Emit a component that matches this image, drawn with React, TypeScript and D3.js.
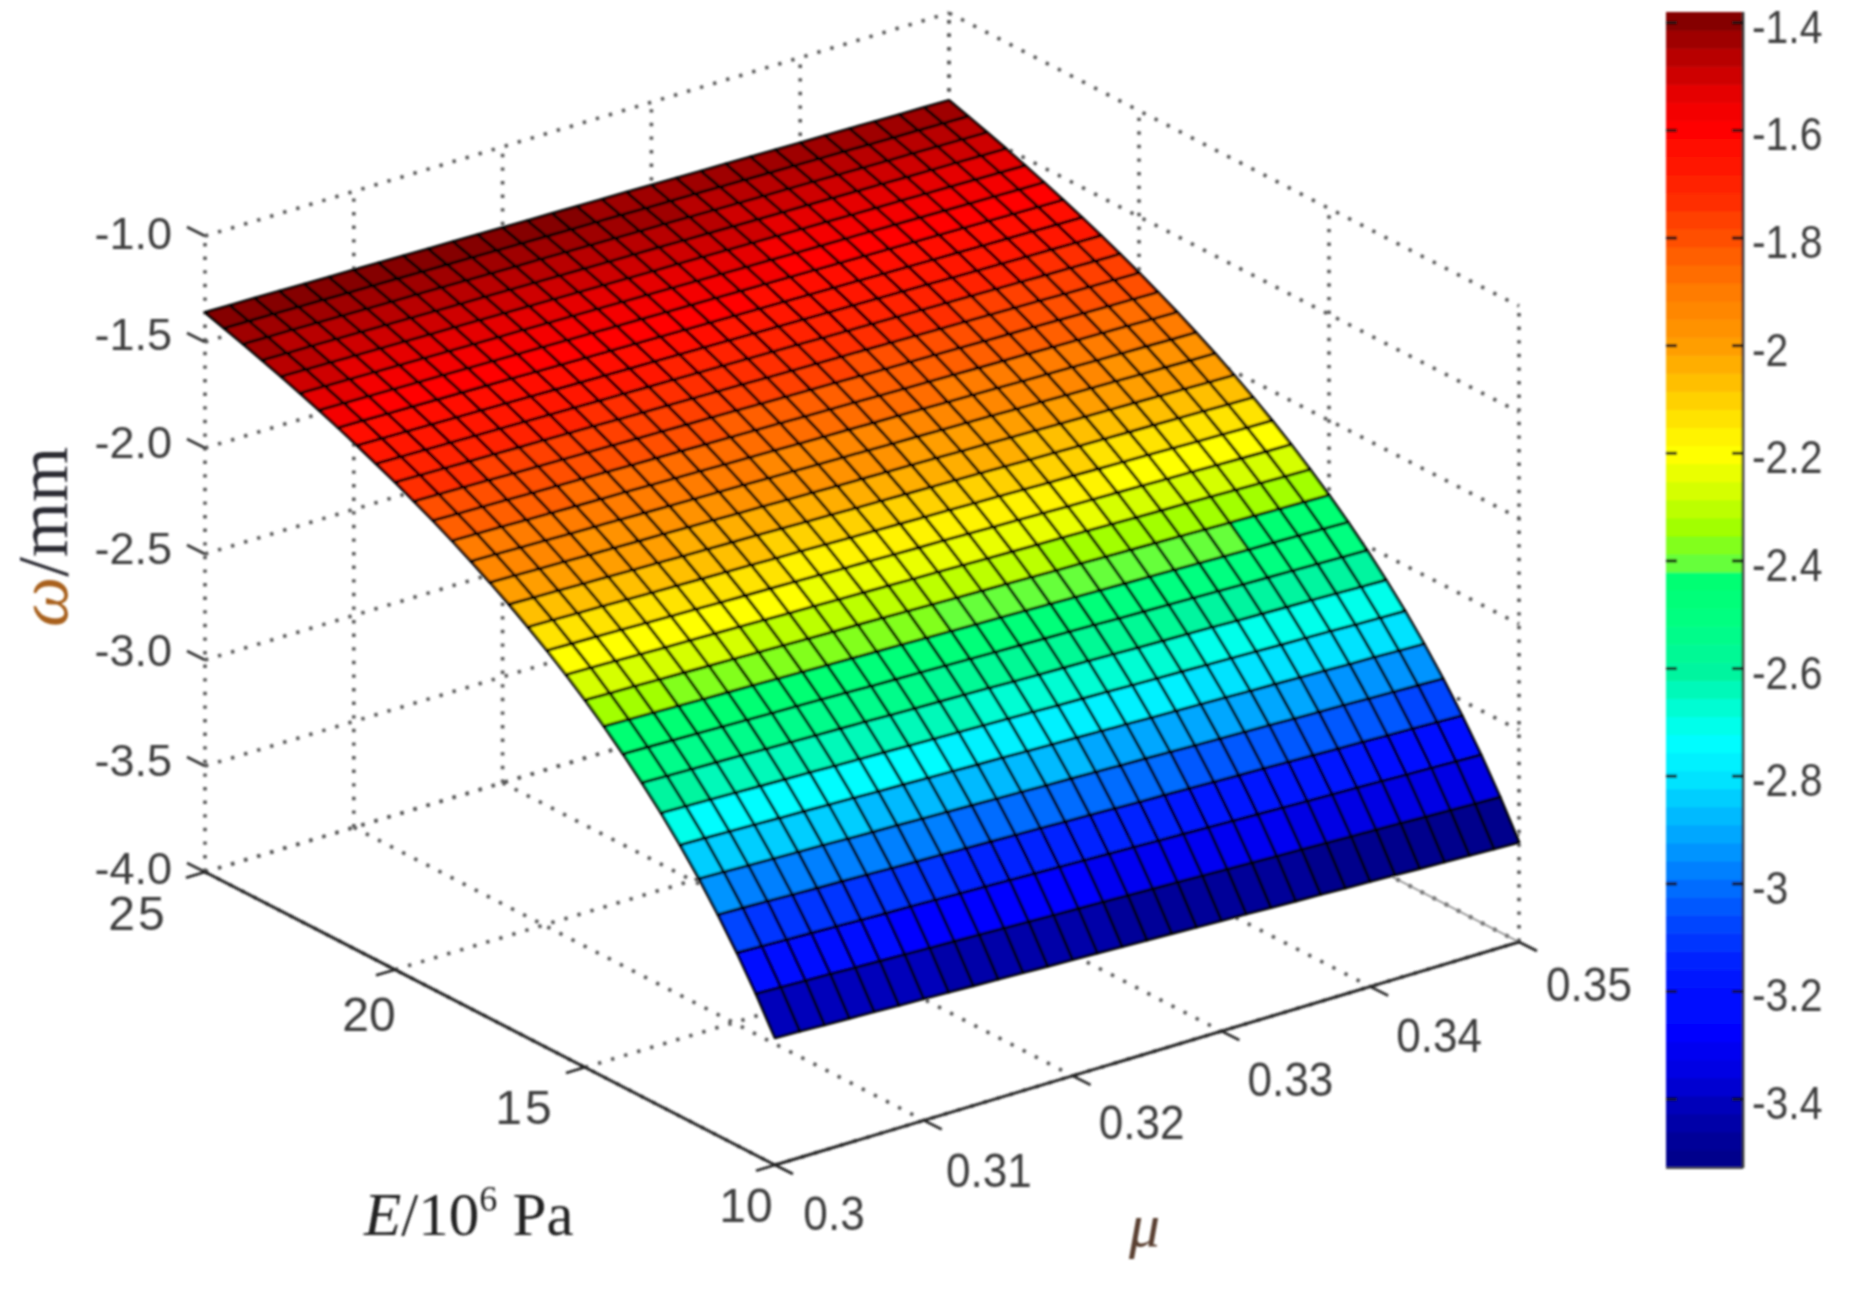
import React from "react";
import * as d3 from "d3";

const eGrid = [10,10.5,11,11.5,12,12.5,13,13.5,14,14.5,15,15.5,16,16.5,17,17.5,18,18.5,19,19.5,20,20.5,21,21.5,22,22.5,23,23.5,24,24.5,25];
const muGrid = [0.3,0.30167,0.30333,0.305,0.30667,0.30833,0.31,0.31167,0.31333,0.315,0.31667,0.31833,0.32,0.32167,0.32333,0.325,0.32667,0.32833,0.33,0.33167,0.33333,0.335,0.33667,0.33833,0.34,0.34167,0.34333,0.345,0.34667,0.34833,0.35];

// deflection magnitude in micrometres; one row per E value, one column per mu value
const deflection = [
[3400,3404,3409,3413,3417,3422,3426,3430,3435,3439,3443,3448,3452,3456,3461,3465,3469,3474,3478,3482,3487,3491,3495,3500,3504,3508,3513,3517,3521,3526,3530],
[3238,3242,3246,3250,3255,3259,3263,3267,3271,3275,3279,3284,3288,3292,3296,3300,3304,3308,3312,3317,3321,3325,3329,3333,3337,3341,3345,3350,3354,3358,3362],
[3091,3095,3099,3103,3107,3111,3115,3118,3122,3126,3130,3134,3138,3142,3146,3150,3154,3158,3162,3166,3170,3174,3178,3182,3185,3189,3193,3197,3201,3205,3209],
[2957,2960,2964,2968,2972,2975,2979,2983,2987,2990,2994,2998,3002,3005,3009,3013,3017,3021,3024,3028,3032,3036,3039,3043,3047,3051,3054,3058,3062,3066,3070],
[2833,2837,2841,2844,2848,2851,2855,2859,2862,2866,2869,2873,2877,2880,2884,2887,2891,2895,2898,2902,2906,2909,2913,2916,2920,2924,2927,2931,2934,2938,2942],
[2720,2723,2727,2730,2734,2737,2741,2744,2748,2751,2755,2758,2762,2765,2769,2772,2775,2779,2782,2786,2789,2793,2796,2800,2803,2807,2810,2814,2817,2821,2824],
[2615,2619,2622,2625,2629,2632,2635,2639,2642,2645,2649,2652,2655,2659,2662,2665,2669,2672,2675,2679,2682,2685,2689,2692,2695,2699,2702,2705,2709,2712,2715],
[2519,2522,2525,2528,2531,2535,2538,2541,2544,2547,2551,2554,2557,2560,2563,2567,2570,2573,2576,2579,2583,2586,2589,2592,2596,2599,2602,2605,2608,2612,2615],
[2429,2432,2435,2438,2441,2444,2447,2450,2453,2456,2460,2463,2466,2469,2472,2475,2478,2481,2484,2487,2491,2494,2497,2500,2503,2506,2509,2512,2515,2518,2521],
[2345,2348,2351,2354,2357,2360,2363,2366,2369,2372,2375,2378,2381,2384,2387,2390,2393,2396,2399,2402,2405,2408,2411,2414,2417,2420,2423,2425,2428,2431,2434],
[2267,2270,2272,2275,2278,2281,2284,2287,2290,2293,2296,2298,2301,2304,2307,2310,2313,2316,2319,2322,2324,2327,2330,2333,2336,2339,2342,2345,2348,2350,2353],
[2194,2196,2199,2202,2205,2207,2210,2213,2216,2219,2221,2224,2227,2230,2233,2235,2238,2241,2244,2247,2249,2252,2255,2258,2261,2263,2266,2269,2272,2275,2277],
[2125,2128,2130,2133,2136,2139,2141,2144,2147,2149,2152,2155,2158,2160,2163,2166,2168,2171,2174,2176,2179,2182,2185,2187,2190,2193,2195,2198,2201,2204,2206],
[2061,2063,2066,2068,2071,2074,2076,2079,2082,2084,2087,2089,2092,2095,2097,2100,2103,2105,2108,2110,2113,2116,2118,2121,2124,2126,2129,2132,2134,2137,2139],
[2000,2003,2005,2008,2010,2013,2015,2018,2020,2023,2025,2028,2031,2033,2036,2038,2041,2043,2046,2048,2051,2054,2056,2059,2061,2064,2066,2069,2071,2074,2076],
[1943,1945,1948,1950,1953,1955,1958,1960,1963,1965,1968,1970,1973,1975,1978,1980,1983,1985,1987,1990,1992,1995,1997,2000,2002,2005,2007,2010,2012,2015,2017],
[1889,1891,1894,1896,1899,1901,1903,1906,1908,1911,1913,1915,1918,1920,1923,1925,1927,1930,1932,1935,1937,1939,1942,1944,1947,1949,1951,1954,1956,1959,1961],
[1838,1840,1842,1845,1847,1850,1852,1854,1857,1859,1861,1864,1866,1868,1871,1873,1875,1878,1880,1882,1885,1887,1889,1892,1894,1896,1899,1901,1903,1906,1908],
[1789,1792,1794,1796,1799,1801,1803,1805,1808,1810,1812,1815,1817,1819,1821,1824,1826,1828,1831,1833,1835,1837,1840,1842,1844,1847,1849,1851,1853,1856,1858],
[1744,1746,1748,1750,1753,1755,1757,1759,1761,1764,1766,1768,1770,1772,1775,1777,1779,1781,1784,1786,1788,1790,1792,1795,1797,1799,1801,1804,1806,1808,1810],
[1700,1702,1704,1707,1709,1711,1713,1715,1717,1720,1722,1724,1726,1728,1730,1733,1735,1737,1739,1741,1743,1746,1748,1750,1752,1754,1756,1759,1761,1763,1765],
[1659,1661,1663,1665,1667,1669,1671,1673,1675,1678,1680,1682,1684,1686,1688,1690,1692,1694,1697,1699,1701,1703,1705,1707,1709,1711,1713,1716,1718,1720,1722],
[1619,1621,1623,1625,1627,1629,1631,1633,1636,1638,1640,1642,1644,1646,1648,1650,1652,1654,1656,1658,1660,1662,1664,1666,1669,1671,1673,1675,1677,1679,1681],
[1581,1583,1585,1587,1589,1591,1593,1595,1598,1600,1602,1604,1606,1608,1610,1612,1614,1616,1618,1620,1622,1624,1626,1628,1630,1632,1634,1636,1638,1640,1642],
[1545,1547,1549,1551,1553,1555,1557,1559,1561,1563,1565,1567,1569,1571,1573,1575,1577,1579,1581,1583,1585,1587,1589,1591,1593,1595,1597,1599,1601,1603,1605],
[1511,1513,1515,1517,1519,1521,1523,1525,1527,1528,1530,1532,1534,1536,1538,1540,1542,1544,1546,1548,1550,1552,1553,1555,1557,1559,1561,1563,1565,1567,1569],
[1478,1480,1482,1484,1486,1488,1490,1491,1493,1495,1497,1499,1501,1503,1505,1507,1508,1510,1512,1514,1516,1518,1520,1522,1524,1525,1527,1529,1531,1533,1535],
[1447,1449,1450,1452,1454,1456,1458,1460,1462,1463,1465,1467,1469,1471,1473,1474,1476,1478,1480,1482,1484,1486,1487,1489,1491,1493,1495,1497,1498,1500,1502],
[1417,1419,1420,1422,1424,1426,1428,1429,1431,1433,1435,1437,1438,1440,1442,1444,1446,1447,1449,1451,1453,1455,1456,1458,1460,1462,1464,1465,1467,1469,1471],
[1388,1390,1391,1393,1395,1397,1398,1400,1402,1404,1405,1407,1409,1411,1413,1414,1416,1418,1420,1421,1423,1425,1427,1428,1430,1432,1434,1436,1437,1439,1441],
[1360,1362,1363,1365,1367,1369,1370,1372,1374,1376,1377,1379,1381,1383,1384,1386,1388,1389,1391,1393,1395,1396,1398,1400,1402,1403,1405,1407,1409,1410,1412],
];

const zTicks = [-1, -1.5, -2, -2.5, -3, -3.5, -4];
const zLabels = ["-1.0", "-1.5", "-2.0", "-2.5", "-3.0", "-3.5", "-4.0"];
const eTicks = [25, 20, 15, 10];
const eLabels = ["25", "20", "15", "10"];
const muTicks = [0.3, 0.31, 0.32, 0.33, 0.34, 0.35];
const muLabels = ["0.3", "0.31", "0.32", "0.33", "0.34", "0.35"];
const barTicks = [-1.4, -1.6, -1.8, -2, -2.2, -2.4, -2.6, -2.8, -3, -3.2, -3.4];
const barLabels = ["-1.4", "-1.6", "-1.8", "-2", "-2.2", "-2.4", "-2.6", "-2.8", "-3", "-3.2", "-3.4"];
const colorDomain = [-3.528, -1.38];

// colormap
const stopValues = [-1.382,-1.464,-1.536,-1.592,-1.7,-1.802,-1.891,-1.997,-2.07,-2.155,-2.203,-2.283,-2.339,-2.389,-2.413,-2.421,-2.506,-2.607,-2.685,-2.735,-2.798,-2.863,-2.934,-3.0,-3.075,-3.148,-3.2,-3.276,-3.36,-3.4,-3.467,-3.523];
const stopColors = ["#7a0000","#b80000","#e80000","#ff0000","#ff2000","#ff5000","#ff7800","#ff9c00","#ffc000","#ffee00","#ffff00","#ccff00","#a0ff00","#70ff30","#60ff40","#00ff70","#00ff80","#00f5a0","#00ffdd","#00ffff","#00e8ff","#00c0ff","#0098ff","#0070ff","#0045ff","#0020ff","#0010ff","#0000ff","#0000dd","#0000c0","#00009c","#000088"];

// layout
const eOffsets = [[-67, 41], [-26, 44], [-60, 40], [-29, 40]];
const muOffsets = [[59, 47], [65, 49], [69, 45], [69, 47], [69, 47], [70, 41]];
const zLabelX = 172;
const zLabelDy = [-3, -8, -6, -6, -10, -6, -4];

const stopScale = d3.scaleLinear<string>().domain(stopValues).range(stopColors).interpolate(d3.interpolateRgb).clamp(true);
const levels = d3.range(64).map((i) => d3.rgb(stopScale(colorDomain[0] + ((colorDomain[1] - colorDomain[0]) * (i + 0.5)) / 64)).formatHex());
const colorOf = d3.scaleQuantize<string>().domain(colorDomain).range(levels);

const tScale = d3.scaleLinear().domain([25, 10]).range([0, 1]);
const sScale = d3.scaleLinear().domain([0.3, 0.35]).range([0, 1]);
const zScale = d3.scaleLinear().domain([-4, -1]).range([0, -636]);
const barY = d3.scaleLinear().domain([colorDomain[1], colorDomain[0]]).range([12, 1168]);

const project = (E: number, mu: number, z: number): [number, number] => {
  const t = tScale(E);
  const s = sScale(mu);
  return [205 + 570 * t + 744 * s, 872 + 293 * t - 223 * s + zScale(z)];
};

const line = d3.line();
const seg = (a: [number, number], b: [number, number]) => line([a, b]) as string;

const E0 = 25, E1 = 10, M0 = 0.3, M1 = 0.35, ZB = -4, ZT = -1;

const dotted: string[] = [
  ...zTicks.map((z) => seg(project(E0, M0, z), project(E0, M1, z))),
  ...zTicks.map((z) => seg(project(E0, M1, z), project(E1, M1, z))),
  ...muTicks.map((m) => seg(project(E0, m, ZB), project(E0, m, ZT))),
  ...eTicks.map((e) => seg(project(e, M1, ZB), project(e, M1, ZT))),
  ...muTicks.map((m) => seg(project(E0, m, ZB), project(E1, m, ZB))),
  ...eTicks.map((e) => seg(project(e, M0, ZB), project(e, M1, ZB))),
];

const labelStyle = { fontFamily: "'Liberation Sans', Arial, sans-serif", fill: "#3c3c3c" };

export default function App() {
  const cells: React.ReactNode[] = [];
  for (let i = 0; i < eGrid.length - 1; i++) {
    for (let j = 0; j < muGrid.length - 1; j++) {
      const P = (r: number, c: number) => project(eGrid[r], muGrid[c], -deflection[r][c] / 1000);
      const d = (line([P(i, j), P(i + 1, j), P(i + 1, j + 1), P(i, j + 1)]) as string) + "Z";
      cells.push(
        <path key={`${i}-${j}`} d={d} fill={colorOf(-deflection[i][j] / 1000)} stroke="#000" strokeWidth={2.9} strokeLinejoin="round" />
      );
    }
  }
  const tx = 18, ty = 9;
  return (
    <svg width={1857} height={1290} viewBox="0 0 1857 1290" style={{ position: "absolute", left: 0, top: 0, display: "block", background: "#fff" }}>
      <defs>
        <filter id="soft" filterUnits="userSpaceOnUse" x={0} y={0} width={1857} height={1290}>
          <feGaussianBlur stdDeviation={1.05} />
        </filter>
      </defs>
      <g filter="url(#soft)">
        <g fill="none" stroke="#555" strokeWidth={3.6} strokeDasharray="3.4 10.2">
          {dotted.map((d, i) => <path key={i} d={d} />)}
        </g>
        <path d={seg(project(E0, M1, ZB), project(E1, M1, ZB))} stroke="#888" strokeWidth={1.6} fill="none" />
        {cells}
        {/* base axes */}
        <path d={seg(project(E0, M0, ZB), project(E1, M0, ZB))} stroke="#222" strokeWidth={3} fill="none" />
        <path d={seg(project(E1, M0, ZB), project(E1, M1, ZB))} stroke="#222" strokeWidth={3} fill="none" />
        {/* ticks */}
        {zTicks.map((z) => {
          const p = project(E0, M0, z);
          return <path key={z} d={seg([p[0] - tx, p[1] - ty], p)} stroke="#333" strokeWidth={2.6} fill="none" />;
        })}
        {eTicks.map((e) => {
          const p = project(e, M0, ZB);
          return <path key={e} d={seg([p[0] - 19, p[1] + 5.7], p)} stroke="#222" strokeWidth={2.6} fill="none" />;
        })}
        {muTicks.map((m) => {
          const p = project(E1, m, ZB);
          return <path key={m} d={seg(p, [p[0] + tx, p[1] + ty])} stroke="#222" strokeWidth={2.6} fill="none" />;
        })}
        {/* tick labels */}
        {zTicks.map((z, i) => {
          const p = project(E0, M0, z);
          return (
            <text key={z} x={zLabelX} y={p[1] + zLabelDy[i] + 16} textAnchor="end" fontSize={45} style={labelStyle}>{zLabels[i]}</text>
          );
        })}
        {eTicks.map((e, i) => {
          const p = project(e, M0, ZB);
          return (
            <text key={e} x={p[0] + eOffsets[i][0]} y={p[1] + eOffsets[i][1] + 17} textAnchor="middle" fontSize={48} letterSpacing={i === 0 || i === 2 ? 3 : 0} style={labelStyle}>{eLabels[i]}</text>
          );
        })}
        {muTicks.map((m, i) => {
          const p = project(E1, m, ZB);
          return (
            <text key={m} transform={`translate(${p[0] + muOffsets[i][0]},${p[1] + muOffsets[i][1] + 18}) scale(0.9,1)`} textAnchor="middle" fontSize={49} style={labelStyle}>{muLabels[i]}</text>
          );
        })}
        {/* colour bar */}
        {levels.map((c, i) => {
          const v0 = colorDomain[0] + ((colorDomain[1] - colorDomain[0]) * i) / 64;
          const v1 = colorDomain[0] + ((colorDomain[1] - colorDomain[0]) * (i + 1)) / 64;
          return <rect key={c + i} x={1666} y={barY(v1)} width={77} height={barY(v0) - barY(v1) + 0.6} fill={c} />;
        })}
        <path d={seg([1743, 12], [1743, 1168])} stroke="#333" strokeWidth={2.6} />
        <path d={seg([1666, 1168], [1743, 1168])} stroke="#444" strokeWidth={2.2} />
        {barTicks.map((v, i) => (
          <g key={v}>
            <path d={seg([1666, barY(v)], [1677, barY(v)])} stroke="#111" strokeWidth={3} />
            <path d={seg([1732, barY(v)], [1743, barY(v)])} stroke="#111" strokeWidth={3} />
            <text transform={`translate(1752,${barY(v) + 20}) scale(0.87,1)`} fontSize={47} style={labelStyle}>{barLabels[i]}</text>
          </g>
        ))}
        {/* axis titles */}
        <text transform="translate(67,627) rotate(-90)" fontSize={71} fontFamily="'Liberation Serif', 'Times New Roman', serif" fill="#2a2a33">
          <tspan fontStyle="italic" fill="#a8601e">ω</tspan>
          <tspan>/mm</tspan>
        </text>
        <text x={364} y={1235} fontSize={61} fontFamily="'Liberation Serif', 'Times New Roman', serif" fill="#222">
          <tspan fontStyle="italic">E</tspan>
          <tspan>/10</tspan>
          <tspan fontSize={36} dy={-24}>6</tspan>
          <tspan dy={24}> Pa</tspan>
        </text>
        <text x={1129} y={1246} fontSize={62} fontStyle="italic" fontFamily="'Liberation Serif', 'Times New Roman', serif" fill="#5a4030">μ</text>
      </g>
    </svg>
  );
}
